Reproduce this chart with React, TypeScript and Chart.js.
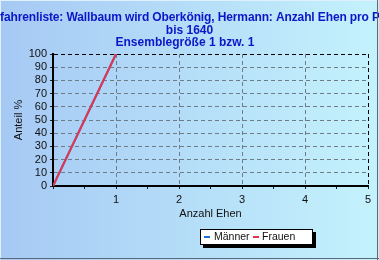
import React, { useEffect, useRef } from "react";
import { Chart, registerables } from "chart.js";

Chart.register(...registerables);

const titleLines = [
  "Vorfahrenliste: Wallbaum wird Oberkönig, Hermann: Anzahl Ehen pro Person",
  "bis 1640",
  "Ensemblegröße 1 bzw. 1",
];
const seriesNames = ["Männer", "Frauen"];
const seriesColors = ["#1f6fd8", "#e8344a"];
const ehenX = [0, 1];
const maennerPct = [0, 100];
const frauenPct = [0, 100];
const xAxisTitle = "Anzahl Ehen";
const yAxisTitle = "Anteil %";

const FONT = "'Liberation Sans', Arial, sans-serif";

const bgPlugin = {
  id: "bgPlugin",
  beforeDraw(chart: any) {
    const { ctx, width, height } = chart;
    ctx.save();
    const g = ctx.createLinearGradient(0, 0, width, 0);
    g.addColorStop(0, "#a6c9f4");
    g.addColorStop(1, "#c4f2fc");
    ctx.fillStyle = g;
    ctx.fillRect(0, 0, width, height);
    ctx.fillStyle = "#dff0ff";
    ctx.fillRect(0, 0, width, 1);
    ctx.fillRect(0, 0, 1, height);
    ctx.fillStyle = "#5a6a78";
    ctx.fillRect(width - 2, 0, 1, height);
    ctx.fillRect(0, height - 2, width, 1);
    ctx.restore();
  },
  afterDraw(chart: any) {
    const { ctx, width } = chart;
    ctx.save();
    // Title
    ctx.fillStyle = "#0c16c8";
    ctx.font = `bold 12px ${FONT}`;
    ctx.textBaseline = "middle";
    ctx.textAlign = "left";
    (ctx as any).letterSpacing = "-0.12px";
    const pre = ctx.measureText("Vor").width;
    ctx.fillText(titleLines[0], -pre, 18);
    (ctx as any).letterSpacing = "0px";
    ctx.textAlign = "center";
    ctx.fillText(titleLines[1], 189.5, 31);
    ctx.fillText(titleLines[2], 185, 43);
    ctx.fillStyle = "#5a6a78";
    ctx.fillRect(width - 2, 0, 1, 60);

    // Legend
    const lx = 200, ly = 229, lw = 113, lh = 16;
    ctx.fillStyle = "#000";
    ctx.fillRect(lx + 3, ly + 3, lw, lh);
    ctx.fillStyle = "#fff";
    ctx.fillRect(lx, ly, lw, lh);
    ctx.strokeStyle = "#000";
    ctx.lineWidth = 1;
    ctx.strokeRect(lx + 0.5, ly + 0.5, lw - 1, lh - 1);
    ctx.font = `10.5px ${FONT}`;
    ctx.textAlign = "left";
    ctx.textBaseline = "middle";
    const markerX = [204, 253];
    const textX = [214, 262];
    seriesNames.forEach((n, i) => {
      ctx.fillStyle = seriesColors[i];
      ctx.fillRect(markerX[i], 236, 6, 2);
      ctx.fillStyle = "#101010";
      ctx.fillText(n, textX[i], 237.5);
    });
    ctx.restore();
  },
};

export default function App() {
  const ref = useRef<HTMLCanvasElement>(null);
  useEffect(() => {
    if (!ref.current) return;
    const mk = (ys: number[]) => ehenX.map((x, i) => ({ x, y: ys[i] }));
    const chart = new Chart(ref.current, {
      type: "line",
      data: {
        datasets: [
          {
            label: seriesNames[0],
            data: mk(maennerPct),
            borderColor: seriesColors[0],
            backgroundColor: seriesColors[0],
            borderWidth: 2,
            pointRadius: 0,
            order: 2,
          },
          {
            label: seriesNames[1],
            data: mk(frauenPct),
            borderColor: seriesColors[1],
            backgroundColor: seriesColors[1],
            borderWidth: 2,
            pointRadius: 0,
            order: 1,
          },
        ],
      },
      options: {
        animation: false,
        responsive: false,
        layout: { padding: { top: 54, right: 11, bottom: 39, left: 0 } },
        plugins: { legend: { display: false }, title: { display: false }, tooltip: { enabled: false } },
        scales: {
          x: {
            type: "linear",
            min: 0,
            max: 5,
            afterFit: (s: any) => { s.height = 35; },
            ticks: {
              stepSize: 0.5,
              autoSkip: false,
              maxRotation: 0,
              padding: 4,
              color: "#101010",
              font: { family: FONT, size: 11 },
              callback: (v: any) => (Number.isInteger(v) && v !== 0 ? String(v) : ""),
            },
            grid: {
              color: (c: any) =>
                c.tick && c.tick.value === 5 ? "#000" : c.tick && Number.isInteger(c.tick.value) ? "#6e7c88" : "transparent",
              tickColor: "#202020",
              tickLength: 3,
              lineWidth: 1,
            },
            border: { display: true, color: "#000", width: 2, dash: [4, 3] },
            title: {
              display: true,
              text: xAxisTitle,
              color: "#101010",
              font: { family: FONT, size: 11 },
              padding: { top: 0, bottom: 0 },
            },
          },
          y: {
            min: 0,
            max: 100,
            afterFit: (s: any) => { s.width = 53; },
            ticks: {
              stepSize: 10,
              autoSkip: false,
              padding: 3,
              color: "#101010",
              font: { family: FONT, size: 11 },
            },
            grid: {
              color: (c: any) => (c.tick && c.tick.value === 100 ? "#000" : "#6e7c88"),
              tickColor: "#202020",
              tickLength: 3,
              lineWidth: 1,
            },
            border: { display: true, color: "#000", width: 2, dash: [4, 3] },
            title: {
              display: true,
              text: yAxisTitle,
              color: "#101010",
              font: { family: FONT, size: 11 },
              padding: { top: 12, bottom: 0 },
            },
          },
        },
      },
      plugins: [bgPlugin],
    });
    return () => chart.destroy();
  }, []);
  return (
    <div style={{ position: "fixed", left: 0, top: 0, width: 379, height: 260 }}>
      <canvas ref={ref} width={379} height={260} style={{ display: "block", width: 379, height: 260 }} />
    </div>
  );
}
